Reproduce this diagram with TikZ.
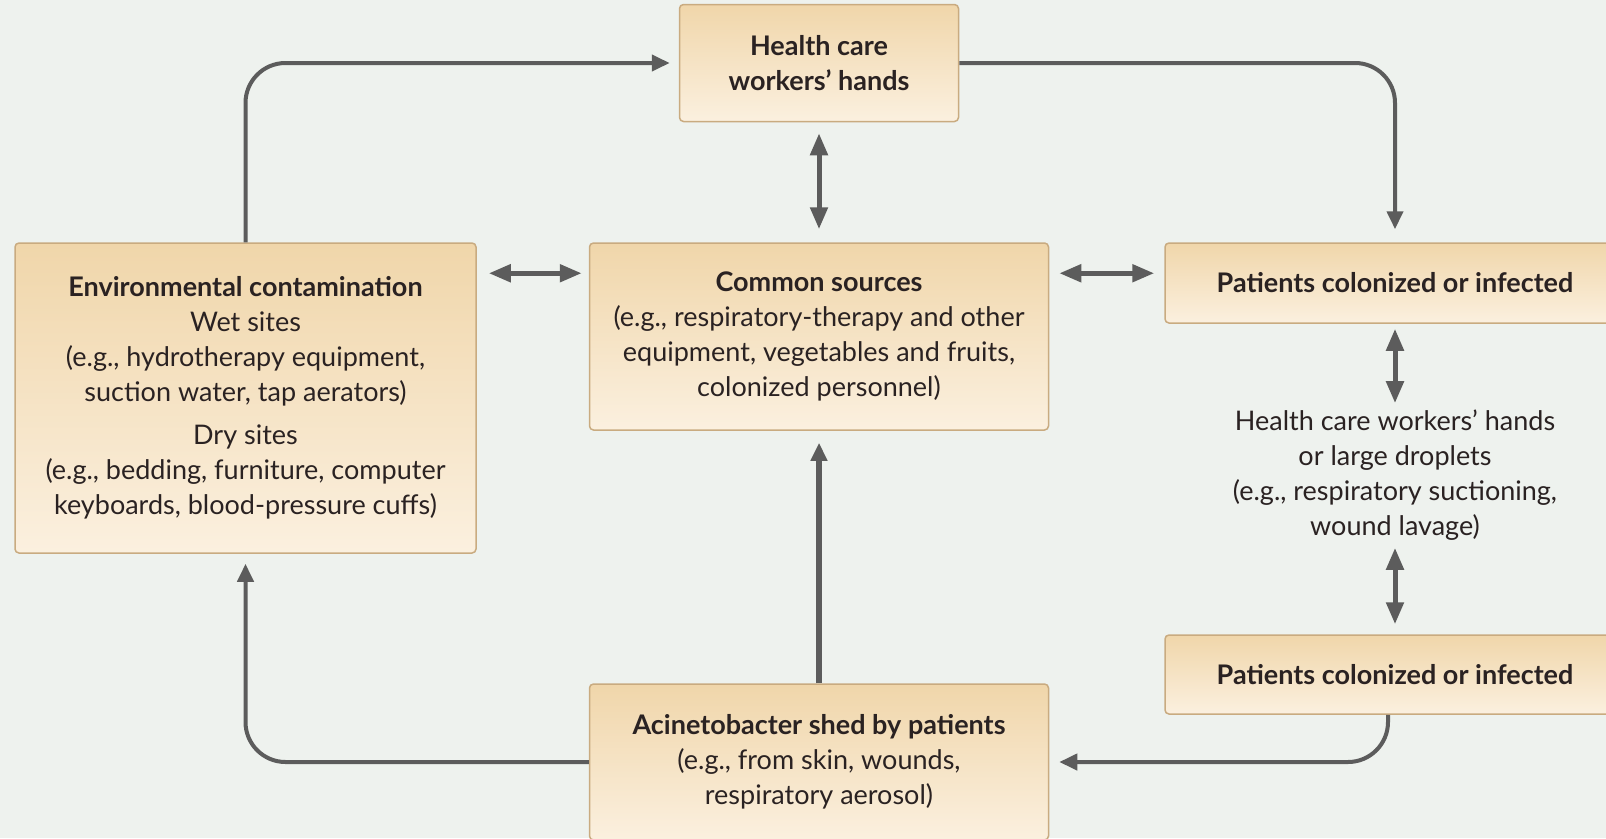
\documentclass[tikz,border=0pt]{standalone}
\usepackage{fontspec}
\setmainfont{Lato}
\usetikzlibrary{arrows.meta}
\definecolor{bgcol}{HTML}{EEF2EE}
\definecolor{boxtop}{HTML}{F0D6AA}
\definecolor{boxbot}{HTML}{FBF0DF}
\definecolor{boxline}{HTML}{C9AB80}
\definecolor{arrowgray}{HTML}{5C5C5C}
\definecolor{inkcol}{HTML}{2A2222}

\begin{document}
\begin{tikzpicture}[x=1pt,y=-1pt,
    box/.style={draw=boxline, line width=1.5pt, rounded corners=4pt,
      top color=boxtop, bottom color=boxbot, align=center, text=inkcol, inner sep=0pt},
    flow/.style={draw=arrowgray, line width=4pt, rounded corners=40pt,
      -{Triangle[length=18pt,width=16pt]}},
    twoway/.style={draw=arrowgray, line width=5pt,
      {Triangle[length=22pt,width=17pt]}-{Triangle[length=22pt,width=17pt]}},
    every node/.style={font=\fontsize{27}{35}\selectfont}]
  \useasboundingbox (0,0) rectangle (1606,838);
  \clip (0,0) rectangle (1606,838);
  \fill[bgcol] (0,0) rectangle (1606,838);

  % boxes
  \node[box, minimum width=279pt, minimum height=117pt] (hcw) at (819,63)
    {\textbf{Health care}\\\textbf{workers’ hands}};
  \node[box, minimum width=461pt, minimum height=310pt] (env) at (245.5,398)
    {\textbf{Environmental contamination}\\Wet sites\\(e.g., hydrotherapy equipment,\\suction water, tap aerators)\\[8pt]Dry sites\\(e.g., bedding, furniture, computer\\keyboards, blood-pressure cuffs)};
  \node[box, minimum width=459pt, minimum height=187pt] (common) at (819,336.5)
    {\textbf{Common sources}\\(e.g., respiratory-therapy and other\\equipment, vegetables and fruits,\\colonized personnel)};
  \node[box, minimum width=460pt, minimum height=80pt] (pat1) at (1395,283)
    {\textbf{Patients colonized or infected}};
  \node[align=center, text=inkcol] (spread) at (1395,475)
    {Health care workers’ hands\\or large droplets\\(e.g., respiratory suctioning,\\wound lavage)};
  \node[box, minimum width=460pt, minimum height=79pt] (pat2) at (1395,674.5)
    {\textbf{Patients colonized or infected}};
  \node[box, minimum width=459pt, minimum height=156pt] (acin) at (819,762)
    {\textbf{Acinetobacter shed by patients}\\(e.g., from skin, wounds,\\respiratory aerosol)};

  % connectors
  \draw[flow, shorten >=9pt] (env.north) |- (hcw.west);
  \draw[flow, shorten >=13pt] (hcw.east) -| (pat1.north);
  \draw[twoway, shorten <=11pt, shorten >=13pt] (hcw.south) -- (common.north);
  \draw[twoway, shorten <=12pt, shorten >=7pt] ([yshift=-31pt]env.north east) -- ([yshift=-31pt]common.north west);
  \draw[twoway, shorten <=10pt, shorten >=10pt] ([yshift=-31pt]common.north east) -- ([yshift=-31pt]pat1.north west);
  \draw[twoway, shorten <=5pt, shorten >=3pt] (pat1.south) -- (spread.north);
  \draw[twoway, shorten <=4pt, shorten >=10pt] (spread.south) -- (pat2.north);
  \draw[flow, shorten >=10pt] ([xshift=-7pt]pat2.south) |- (acin.east);
  \draw[flow, line width=5.5pt, shorten >=12pt] (acin.north) -- (common.south);
  \draw[flow, shorten >=10pt] (acin.west) -| (env.south);
\end{tikzpicture}
\end{document}
